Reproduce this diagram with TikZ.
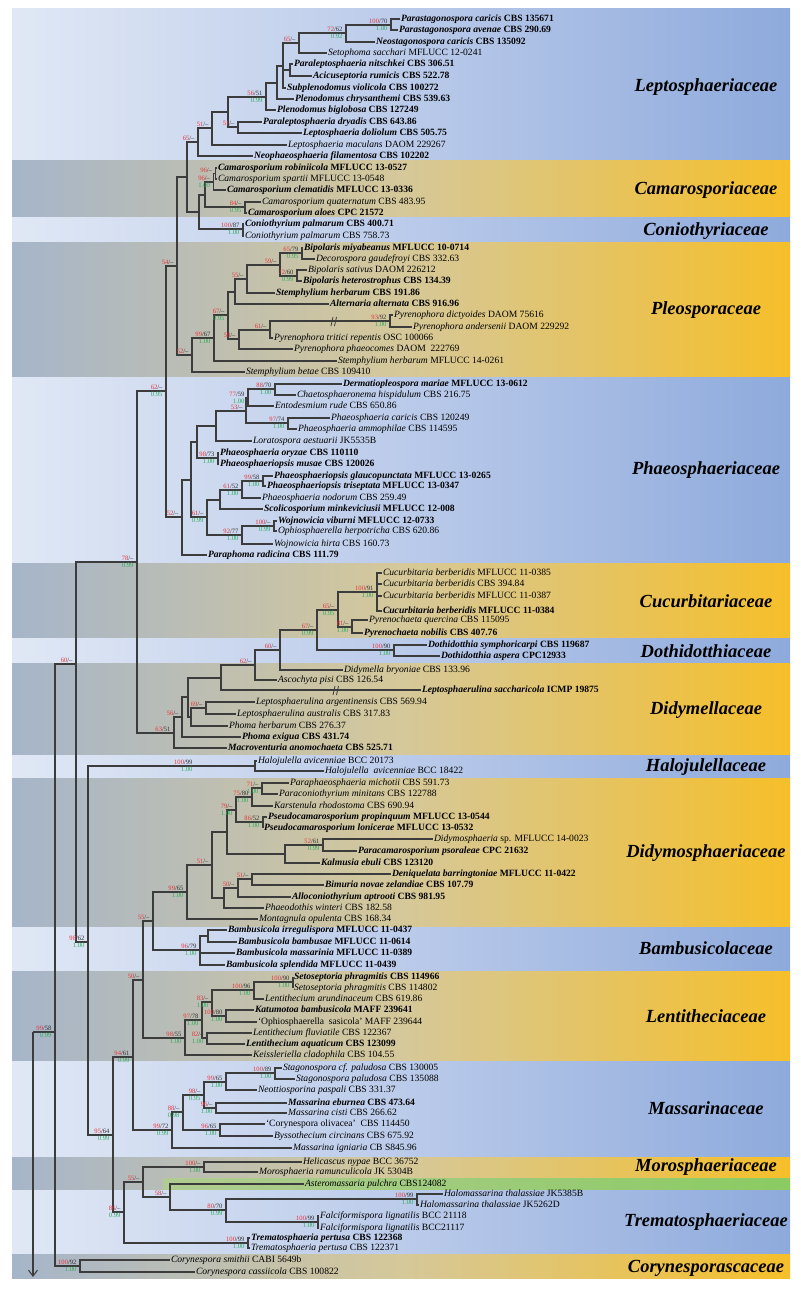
\documentclass[tikz,border=0pt]{standalone}
\usepackage{fontspec}
\setmainfont{Liberation Serif}
\usetikzlibrary{arrows.meta}
\definecolor{bra}{HTML}{3C3C3C}
\definecolor{sred}{HTML}{E8333A}
\definecolor{sgrn}{HTML}{2EAA5E}
\definecolor{sblk}{HTML}{333333}
\definecolor{bl1}{HTML}{E0E8F5}
\definecolor{bl2}{HTML}{BBCBEA}
\definecolor{bl3}{HTML}{8EAADC}
\definecolor{ye1}{HTML}{A6B5CA}
\definecolor{ye2}{HTML}{D5C89A}
\definecolor{ye3}{HTML}{F6BF2A}
\definecolor{gr1}{HTML}{B0CC92}
\definecolor{gr3}{HTML}{8BCB62}
\tikzset{
 tip/.style={anchor=west, inner sep=0.8pt, font=\fontsize{9.6}{10}\selectfont, text height=6.6pt, text depth=1.8pt},
 br/.style={draw=bra, line width=1.1pt},
 fam/.style={font=\fontsize{18.5}{19}\selectfont\bfseries\itshape, inner sep=0pt},
 sl/.style={inner sep=0.3pt, font=\fontsize{6.6}{7}\selectfont, anchor=south east, yshift=0.7pt},
 sg/.style={inner sep=0.3pt, font=\fontsize{6.6}{7}\selectfont, text=sgrn, anchor=north east, yshift=-0.7pt},
}
\newcommand\TB[5]{\node[tip] (#1) at (#2,#3) {\textbf{\textit{#4} #5}};}
\newcommand\TN[5]{\node[tip] (#1) at (#2,#3) {\textit{#4} #5};}
\newcommand\BS[4]{\node[sl] at ([xshift=-3pt]#1) {\textcolor{sred}{#2}\textcolor{sblk}{/#3}};\node[sg] at ([xshift=-3pt]#1) {#4};}
\newcommand\bandB[2]{\shade[left color=bl1, right color=bl3, middle color=bl2] (12,#1) rectangle (790,#2);}
\newcommand\bandY[2]{\shade[left color=ye1, right color=ye3, middle color=ye2] (12,#1) rectangle (790,#2);}
\begin{document}
\begin{tikzpicture}[x=1pt,y=-1pt]
\useasboundingbox (0,0) rectangle (800,1289);
\fill[white] (0,0) rectangle (800,1289);
% bands
\bandB{9}{161}
\bandY{161}{218}
\bandB{218}{243}
\bandY{243}{377}
\bandB{377}{563}
\bandY{563}{638}
\bandB{638}{663}
\bandY{663}{755}
\bandB{755}{778}
\bandY{778}{927}
\bandB{927}{971}
\bandY{971}{1061}
\bandB{1061}{1157}
\bandY{1157}{1190}
\shade[left color=gr1, right color=gr3] (163,1178) rectangle (790,1190);
\bandB{1190}{1254}
\bandY{1254}{1278}
% family labels
\foreach \t/\y in {Leptosphaeriaceae/87, Camarosporiaceae/190, Coniothyriaceae/231, Pleosporaceae/310, Phaeosphaeriaceae/470, Cucurbitariaceae/601, Dothidotthiaceae/651, Didymellaceae/710, Halojulellaceae/767, Didymosphaeriaceae/853, Bambusicolaceae/948, Lentitheciaceae/1016, Massarinaceae/1108, Morosphaeriaceae/1167, Trematosphaeriaceae/1222, Corynesporascaceae/1268}
  \node[fam] (fam\t) at (706,\y) {\t};
% tips
\TB{t1}{400}{19}{Parastagonospora caricis}{CBS 135671}
\TB{t2}{398}{30}{Parastagonospora avenae}{CBS 290.69}
\TB{t3}{375}{42}{Neostagonospora caricis}{CBS 135092}
\TN{t4}{327}{53}{Setophoma sacchari}{MFLUCC 12-0241}
\TB{t5}{293}{64}{Paraleptosphaeria nitschkei}{CBS 306.51}
\TB{t6}{312}{76}{Acicuseptoria rumicis}{CBS 522.78}
\TB{t7}{286}{88}{Subplenodomus violicola}{CBS 100272}
\TB{t8}{294}{99}{Plenodomus chrysanthemi}{CBS 539.63}
\TB{t9}{276}{110}{Plenodomus biglobosa}{CBS 127249}
\TB{t10}{262}{122}{Paraleptosphaeria dryadis}{CBS 643.86}
\TB{t11}{302}{133}{Leptosphaeria doliolum}{CBS 505.75}
\TN{t12}{287}{145}{Leptosphaeria maculans}{DAOM 229267}
\TB{t13}{253}{156}{Neophaeosphaeria filamentosa}{CBS 102202}
\TB{t14}{217}{168}{Camarosporium robiniicola}{MFLUCC 13-0527}
\TN{t15}{217}{179}{Camarosporium spartii}{MFLUCC 13-0548}
\TB{t16}{226}{190}{Camarosporium clematidis}{MFLUCC 13-0336}
\TN{t17}{261}{202}{Camarosporium quaternatum}{CBS 483.95}
\TB{t18}{247}{213}{Camarosporium aloes}{CPC 21572}
\TB{t19}{244}{224}{Coniothyrium palmarum}{CBS 400.71}
\TN{t20}{244}{236}{Coniothyrium palmarum}{CBS 758.73}
\TB{t21}{303}{248}{Bipolaris miyabeanus}{MFLUCC 10-0714}
\TN{t22}{315}{259}{Decorospora gaudefroyi}{CBS 332.63}
\TN{t23}{307}{270}{Bipolaris sativus}{DAOM 226212}
\TB{t24}{302}{281}{Bipolaris heterostrophus}{CBS 134.39}
\TB{t25}{275}{293}{Stemphylium herbarum}{CBS 191.86}
\TB{t26}{329}{304}{Alternaria alternata}{CBS 916.96}
\TN{t27}{393}{315}{Pyrenophora dictyoides}{DAOM 75616}
\TN{t28}{412}{327}{Pyrenophora andersenii}{DAOM 229292}
\TN{t29}{273}{338}{Pyrenophora tritici repentis}{OSC 100066}
\TN{t30}{293}{349}{Pyrenophora phaeocomes}{DAOM~ 222769}
\TN{t31}{337}{361}{Stemphylium herbarum}{MFLUCC 14-0261}
\TN{t32}{245}{372}{Stemphylium betae}{CBS 109410}
\TB{t33}{342}{384}{Dermatiopleospora mariae}{MFLUCC 13-0612}
\TN{t34}{296}{395}{Chaetosphaeronema hispidulum}{CBS 216.75}
\TN{t35}{274}{406}{Entodesmium rude}{CBS 650.86}
\TN{t36}{330}{418}{Phaeosphaeria caricis}{CBS 120249}
\TN{t37}{297}{429}{Phaeosphaeria ammophilae}{CBS 114595}
\TN{t38}{252}{441}{Loratospora aestuarii}{JK5535B}
\TB{t39}{219}{453}{Phaeosphaeria oryzae}{CBS 110110}
\TB{t40}{219}{464}{Phaeosphaeriopsis musae}{CBS 120026}
\TB{t41}{273}{476}{Phaeosphaeriopsis glaucopunctata}{MFLUCC 13-0265}
\TB{t42}{266}{486}{Phaeosphaeriopsis triseptata}{MFLUCC 13-0347}
\TN{t43}{261}{498}{Phaeosphaeria nodorum}{CBS 259.49}
\TB{t44}{263}{509}{Scolicosporium minkeviciusii}{MFLUCC 12-008}
\TB{t45}{277}{521}{Wojnowicia viburni}{MFLUCC 12-0733}
\TN{t46}{277}{531}{Ophiosphaerella herpotricha}{CBS 620.86}
\TN{t47}{273}{544}{Wojnowicia hirta}{CBS 160.73}
\TB{t48}{207}{555}{Paraphoma radicina}{CBS 111.79}
\TN{t49}{382}{573}{Cucurbitaria berberidis}{MFLUCC 11-0385}
\TN{t50}{382}{584}{Cucurbitaria berberidis}{CBS 394.84}
\TN{t51}{382}{596}{Cucurbitaria berberidis}{MFLUCC 11-0387}
\TB{t52}{382}{611}{Cucurbitaria berberidis}{MFLUCC 11-0384}
\TN{t53}{368}{620}{Pyrenochaeta quercina}{CBS 115095}
\TB{t54}{363}{633}{Pyrenochaeta nobilis}{CBS 407.76}
\TB{t55}{427}{645}{Dothidotthia symphoricarpi}{CBS 119687}
\TB{t56}{440}{656}{Dothidotthia aspera}{CPC12933}
\TN{t57}{343}{670}{Didymella bryoniae}{CBS 133.96}
\TN{t58}{277}{680}{Ascochyta pisi}{CBS 126.54}
\TB{t59}{421}{690}{Leptosphaerulina saccharicola}{ICMP 19875}
\TN{t60}{255}{702}{Leptosphaerulina argentinensis}{CBS 569.94}
\TN{t61}{236}{714}{Leptosphaerulina australis}{CBS 317.83}
\TN{t62}{228}{726}{Phoma herbarum}{CBS 276.37}
\TB{t63}{241}{737}{Phoma exigua}{CBS 431.74}
\TB{t64}{227}{748}{Macroventuria anomochaeta}{CBS 525.71}
\TN{t65}{257}{761}{Halojulella avicenniae}{BCC 20173}
\TN{t66}{324}{771}{Halojulella~ avicenniae}{BCC 18422}
\TN{t67}{289}{783}{Paraphaeosphaeria michotii}{CBS 591.73}
\TN{t68}{278}{794}{Paraconiothyrium minitans}{CBS 122788}
\TN{t69}{273}{806}{Karstenula rhodostoma}{CBS 690.94}
\TB{t70}{267}{817}{Pseudocamarosporium propinquum}{MFLUCC 13-0544}
\TB{t71}{263}{828}{Pseudocamarosporium lonicerae}{MFLUCC 13-0532}
\TN{t72}{433}{839}{Didymosphaeria}{sp. MFLUCC 14-0023}
\TB{t73}{357}{851}{Paracamarosporium psoraleae}{CPC 21632}
\TB{t74}{320}{863}{Kalmusia ebuli}{CBS 123120}
\TB{t75}{391}{874}{Deniquelata barringtoniae}{MFLUCC 11-0422}
\TB{t76}{324}{885}{Bimuria novae zelandiae}{CBS 107.79}
\TB{t77}{291}{897}{Alloconiothyrium aptrooti}{CBS 981.95}
\TN{t78}{264}{908}{Phaeodothis winteri}{CBS 182.58}
\TN{t79}{258}{919}{Montagnula opulenta}{CBS 168.34}
\TB{t80}{227}{930}{Bambusicola irregulispora}{MFLUCC 11-0437}
\TB{t81}{237}{942}{Bambusicola bambusae}{MFLUCC 11-0614}
\TB{t82}{235}{953}{Bambusicola massarinia}{MFLUCC 11-0389}
\TB{t83}{225}{965}{Bambusicola splendida}{MFLUCC 11-0439}
\TB{t84}{293}{977}{Setoseptoria phragmitis}{CBS 114966}
\TN{t85}{293}{988}{Setoseptoria phragmitis}{CBS 114802}
\TN{t86}{264}{999}{Lentithecium arundinaceum}{CBS 619.86}
\TB{t87}{254}{1010}{Katumotoa bambusicola}{MAFF 239641}
\node[tip] (t88) at (257,1022) {`Ophiosphaerella~ sasicola' MAFF 239644};
\TN{t89}{252}{1033}{Lentithecium fluviatile}{CBS 122367}
\TB{t90}{245}{1044}{Lentithecium aquaticum}{CBS 123099}
\TN{t91}{252}{1055}{Keissleriella cladophila}{CBS 104.55}
\TN{t92}{282}{1068}{Stagonospora cf. paludosa}{CBS 130005}
\TN{t93}{295}{1079}{Stagonospora paludosa}{CBS 135088}
\TN{t94}{257}{1090}{Neottiosporina paspali}{CBS 331.37}
\TB{t95}{287}{1103}{Massarina eburnea}{CBS 473.64}
\TN{t96}{287}{1113}{Massarina cisti}{CBS 266.62}
\node[tip] (t97) at (265,1124) {`Corynespora olivacea'~ CBS 114450};
\TN{t98}{273}{1136}{Byssothecium circinans}{CBS 675.92}
\TN{t99}{292}{1148}{Massarina igniaria}{CB S845.96}
\TN{t100}{302}{1162}{Helicascus nypae}{BCC 36752}
\TN{t101}{258}{1172}{Morosphaeria ramunculicola}{JK 5304B}
\TN{t102}{304}{1184}{Asteromassaria pulchra}{CBS124082}
\TN{t103}{443}{1194}{Halomassarina thalassiae}{JK5385B}
\TN{t104}{419}{1205}{Halomassarina thalassiae}{JK5262D}
\TN{t105}{319}{1216}{Falciformispora lignatilis}{BCC 21118}
\TN{t106}{319}{1228}{Falciformispora lignatilis}{BCC21117}
\TB{t107}{250}{1238}{Trematosphaeria pertusa}{CBS 122368}
\TN{t108}{250}{1248}{Trematosphaeria pertusa}{CBS 122371}
\TN{t109}{170}{1260}{Corynespora smithii}{CABI 5649b}
\TN{t110}{195}{1272}{Corynespora cassiicola}{CBS 100822}
% internal nodes
\foreach \n/\x/\y in {P1/391/25, P2/346/33, P3/299/43, N1/290/70, P4/283/66, P5/277/83, P6/266/97, D1/238/127, L2/228/112, L3/212/128, L4/198/142, C1/215.5/173.5, C2/213.5/182, C4/245/207, C3/205/195, Co/243/229, Q1/199/212, L5/187/177,
 B1/302/253, B2/297/276, B3/280/265, B4/247/279, B5/235/292, Py/390/321, Pn/270/330, B7/239/339, B6/228/315, B8/214/338, B9/192/355, L6/177/266,
 F1/275/389, F2/248/398, F3/288/423, F4/246/411, F5/216/426, F6/218/458, F7/197/442, G1/263/481, G2/242/490, G3/220/500, G4/274/526, G5/242/535, G6/207/517, F9/191/480, F10/182/517, L7/166/391,
 H1/377/592, H2/352/627, H3/338/610, H4/394/650, H5/317/630, H6/280/650, H7/255/665, H8/221/678, Ls/206/708, H9/191/717, H10/188/697, H11/182/717, H12/174/733, M1/137/562,
 Ha/255/766, R1/76/664, N98/88/942, K1/262/788, K2/252/797, K3/263/822, K4/236/810, K5/323/845, K6/285/854, K7/227/832, K8/252/879, K9/238/888, K10/224/898, K11/212/865, K12/187/892, Bs/208/936, Bb/200/950, K13/153/921,
 E1/293/982, E2/254/990, E3/226/1016, E4/212/1002, E5/207/1038, E6/202/1020, E7/185/1038, K14/143/980,
 J1/275/1073, J2/226/1082, J3/216/1108, J4/204/1095, J5/220/1130, J6/183/1112, J7/172/1130, K15/133/1057,
 U1/204/1167, Hm/417/1199, Fa/318/1222, U2/226/1210, U3/170/1197, U4/143/1182, Tr/248/1243, U5/124/1212, T0/113/1135, Cy/80/1266, N99/55/1032, Rt/33/1032}
  \coordinate (\n) at (\x,\y);
\coordinate (Rend) at (33,1277);
% edges
\foreach \a/\b in {P1/t1,P1/t2,P2/P1,P2/t3,P3/P2,P3/t4,N1/t5,N1/t6,P4/P3,P4/N1,P4/t7,P5/P4,P5/t8,P6/P5,P6/t9,D1/t10,D1/t11,L2/P6,L2/D1,L3/L2,L3/t12,L4/L3,L4/t13,
 C1/t14,C1/t15,C2/C1,C2/t16,C4/t17,C4/t18,C3/C2,C3/C4,Co/t19,Co/t20,Q1/C3,Q1/Co,L5/L4,L5/Q1,
 B1/t21,B1/t22,B2/t23,B2/t24,B3/B1,B3/B2,B4/B3,B4/t25,B5/B4,B5/t26,Py/t27,Py/t28,Pn/Py,Pn/t29,B7/Pn,B7/t30,B6/B5,B6/B7,B8/B6,B8/t31,B9/B8,B9/t32,L6/L5,L6/B9,
 F1/t33,F1/t34,F2/F1,F2/t35,F3/t36,F3/t37,F4/F2,F4/F3,F5/F4,F5/t38,F6/t39,F6/t40,F7/F5,F7/F6,G1/t41,G1/t42,G2/G1,G2/t43,G3/G2,G3/t44,G4/t45,G4/t46,G5/G4,G5/t47,G6/G3,G6/G5,F9/F7,F9/G6,F10/F9,F10/t48,L7/L6,L7/F10,
 H1/t49,H1/t50,H1/t51,H1/t52,H2/t53,H2/t54,H3/H1,H3/H2,H4/t55,H4/t56,H5/H3,H5/H4,H6/H5,H6/t57,H7/H6,H7/t58,H8/H7,H8/t59,Ls/t60,Ls/t61,H9/Ls,H9/t62,H10/H8,H10/H9,H11/H10,H11/t63,H12/H11,H12/t64,M1/L7,M1/H12,
 Ha/t65,Ha/t66,R1/M1,R1/N98,N98/Ha,N98/T0,K1/t67,K1/t68,K2/K1,K2/t69,K3/t70,K3/t71,K4/K2,K4/K3,K5/t72,K5/t73,K6/K5,K6/t74,K7/K4,K7/K6,K8/t75,K8/t76,K9/K8,K9/t77,K10/K9,K10/t78,K11/K7,K11/K10,K12/K11,K12/t79,Bs/t80,Bs/t81,Bb/Bs,Bb/t82,Bb/t83,K13/K12,K13/Bb,
 E1/t84,E1/t85,E2/E1,E2/t86,E3/t87,E3/t88,E4/E2,E4/E3,E5/t89,E5/t90,E6/E4,E6/E5,E7/E6,E7/t91,K14/K13,K14/E7,
 J1/t92,J1/t93,J2/J1,J2/t94,J3/t95,J3/t96,J4/J2,J4/J3,J5/t97,J5/t98,J6/J4,J6/J5,J7/J6,J7/t99,K15/K14,K15/J7,
 U1/t100,U1/t101,Hm/t103,Hm/t104,Fa/t105,Fa/t106,U2/Hm,U2/Fa,U3/t102,U3/U2,U4/U1,U4/U3,Tr/t107,Tr/t108,U5/U4,U5/Tr,T0/K15,T0/U5,Cy/t109,Cy/t110,
 N99/R1,N99/Cy,Rt/N99}
  \draw[br] (\a) |- (\b);
\draw[br,-{Straight Barb[length=6pt,width=9pt]}] (Rt) -- (Rend);
% branch breaks
\draw[br,line width=0.8pt] (333,317) -- (331,326) (336.5,317) -- (334.5,326);
\draw[br,line width=0.8pt] (335,686) -- (333,695) (338.5,686) -- (336.5,695);
% supports
\BS{P1}{100}{70}{1.00}\BS{P2}{72}{62}{0.92}\BS{P3}{65}{–}{}\BS{P6}{56}{51}{0.99}
\BS{L3}{51}{–}{}\BS{D1}{51}{–}{}\BS{L4}{65}{–}{}
\BS{C1}{96}{–}{}\BS{C2}{96}{–}{1.00}\BS{C4}{84}{–}{0.95}\BS{Co}{100}{87}{1.00}
\BS{L6}{54}{–}{}\BS{B1}{65}{79}{0.95}\BS{B3}{59}{–}{}\BS{B2}{72}{60}{0.99}\BS{B4}{55}{–}{}
\BS{B6}{67}{–}{0.95}\BS{Pn}{61}{–}{}\BS{Py}{93}{92}{1.00}\BS{B8}{99}{67}{1.00}\BS{B7}{58}{–}{}\BS{B9}{52}{–}{}
\BS{L7}{62}{–}{0.95}\BS{F1}{88}{70}{1.00}\BS{F2}{77}{59}{1.00}\BS{F4}{53}{–}{}\BS{F3}{97}{74}{1.00}
\BS{F6}{98}{73}{1.00}\BS{G1}{99}{58}{1.00}\BS{G2}{61}{52}{1.00}\BS{G6}{61}{–}{0.99}\BS{G4}{100}{–}{0.99}
\BS{G5}{92}{77}{1.00}\BS{F10}{52}{–}{}\BS{M1}{78}{–}{0.99}
\BS{H1}{100}{91}{1.00}\BS{H3}{65}{–}{0.95}\BS{H2}{81}{–}{1.00}\BS{H5}{67}{–}{0.99}\BS{H6}{60}{–}{}
\BS{H4}{100}{90}{1.00}\BS{H7}{62}{–}{}\BS{Ls}{69}{–}{}\BS{H11}{56}{–}{}\BS{H12}{63}{51}{}
\node[sl] at (193,766) {\textcolor{sred}{100}\textcolor{sblk}{/99}};\node[sg] at (193,766) {1.00};
\BS{R1}{60}{–}{}\BS{N98}{98}{62}{1.00}
\BS{K1}{71}{–}{1.00}\BS{K2}{75}{80}{1.00}\BS{K4}{79}{–}{1.00}\BS{K3}{86}{52}{1.00}\BS{K5}{52}{61}{0.99}
\BS{K11}{51}{–}{}\BS{K8}{51}{–}{}\BS{K9}{50}{–}{}\BS{K12}{99}{65}{1.00}\BS{Bb}{96}{79}{1.00}\BS{K13}{55}{–}{}\BS{K14}{50}{–}{}
\BS{E1}{100}{90}{1.00}\BS{E2}{100}{96}{1.00}\BS{E4}{83}{–}{1.00}\BS{E3}{100}{80}{1.00}\BS{E6}{97}{78}{1.00}
\BS{E5}{82}{–}{1.00}\BS{E7}{98}{55}{1.00}\BS{K15}{94}{61}{0.99}
\BS{J1}{100}{89}{1.00}\BS{J2}{99}{65}{1.00}\BS{J4}{98}{–}{0.95}\BS{J3}{96}{–}{1.00}\BS{J6}{88}{–}{0.98}
\BS{J5}{96}{65}{1.00}\BS{J7}{99}{72}{0.99}\BS{T0}{95}{64}{0.99}
\BS{U1}{100}{–}{1.00}\BS{U4}{55}{–}{}\BS{U3}{58}{–}{}\BS{Hm}{100}{99}{1.00}\BS{U2}{80}{70}{0.99}
\BS{Fa}{100}{99}{1.00}\BS{U5}{86}{–}{0.99}\BS{Tr}{100}{99}{1.00}\BS{Cy}{100}{92}{1.00}
\BS{N99}{99}{58}{0.99}
\end{tikzpicture}
\end{document}
